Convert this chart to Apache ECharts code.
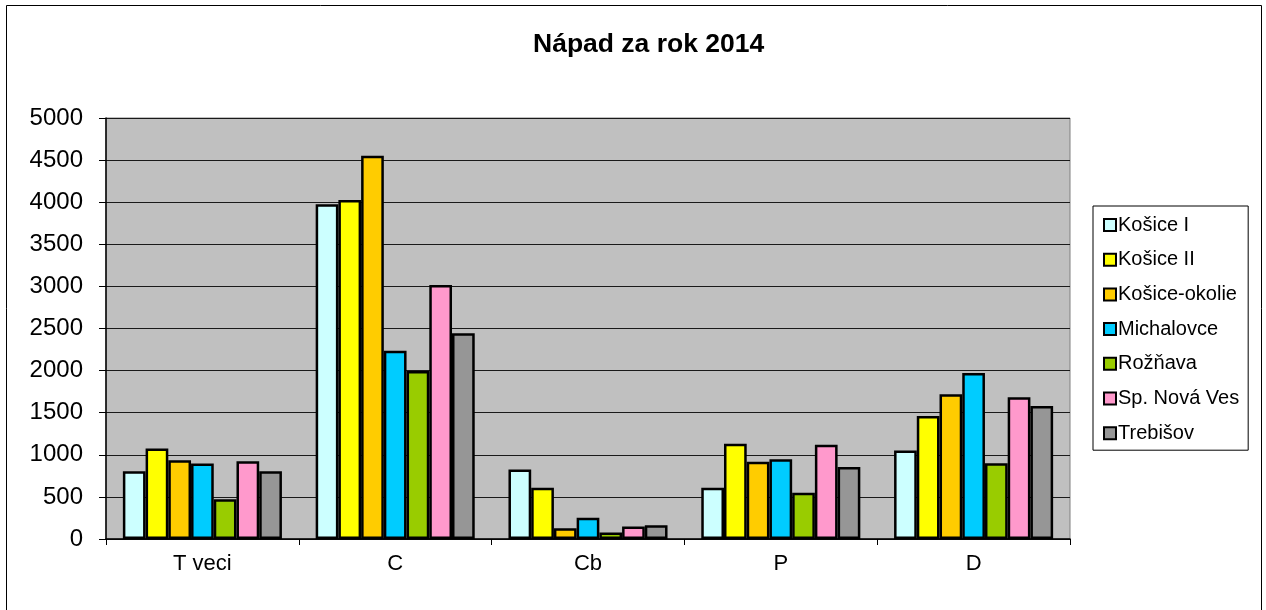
<!DOCTYPE html>
<html>
<head>
<meta charset="utf-8">
<script src="https://cdn.jsdelivr.net/npm/echarts@6/dist/echarts.min.js"></script>
<style>
html,body{margin:0;padding:0;background:#fff;}
#c{width:1266px;height:610px;}
</style>
</head>
<body>
<div id="c"></div>
<script>
const categories = ['T veci', 'C', 'Cb', 'P', 'D'];
const seriesNames = ['Košice I', 'Košice II', 'Košice-okolie', 'Michalovce', 'Rožňava', 'Sp. Nová Ves', 'Trebišov'];
const kosiceI = [805, 3975, 825, 608, 1050];
const kosiceII = [1075, 4025, 608, 1132, 1460];
const kosiceOkolie = [936, 4552, 128, 916, 1718];
const michalovce = [896, 2236, 252, 948, 1972];
const roznava = [472, 1994, 76, 548, 900];
const spNovaVes = [924, 3017, 148, 1120, 1683];
const trebisov = [805, 2443, 164, 856, 1579];
const yTicks = [0, 500, 1000, 1500, 2000, 2500, 3000, 3500, 4000, 4500, 5000];

const values = [kosiceI, kosiceII, kosiceOkolie, michalovce, roznava, spNovaVes, trebisov];
const colors = ['#CCFFFF', '#FFFF00', '#FFCC00', '#00CCFF', '#99CC00', '#FF99CC', '#969696'];
const FONT = 'Liberation Sans, Arial, sans-serif';

const chart = echarts.init(document.getElementById('c'), null, {renderer: 'canvas'});
chart.setOption({
  backgroundColor: '#ffffff',
  animation: false,
  title: {
    text: 'Nápad za rok 2014',
    left: 533,
    top: 31,
    padding: 0,
    textStyle: {fontFamily: FONT, fontSize: 26.5, fontWeight: 'bold', color: '#000'}
  },
  legend: {
    orient: 'vertical',
    left: 1093,
    top: 206,
    padding: [9, 9, 7, 10],
    borderColor: '#000',
    borderWidth: 1,
    itemWidth: 12,
    itemHeight: 12,
    itemGap: 14.7,
    icon: 'rect',
    itemStyle: {borderColor: '#000', borderWidth: 2},
    textStyle: {fontFamily: FONT, fontSize: 20, color: '#000', lineHeight: 20, padding: [0, 0, 0, -3]},
    data: seriesNames
  },
  grid: {
    left: 106, top: 118, width: 964, height: 421,
    show: true, backgroundColor: '#C0C0C0', borderColor: '#808080', borderWidth: 1,
    containLabel: false
  },
  xAxis: {
    type: 'category',
    data: categories,
    axisLine: {lineStyle: {color: '#000', width: 1.5}},
    axisTick: {show: true, length: 6, lineStyle: {color: '#000', width: 1}},
    axisLabel: {fontFamily: FONT, fontSize: 22, color: '#000', margin: 14}
  },
  yAxis: {
    type: 'value',
    min: yTicks[0],
    max: yTicks[yTicks.length - 1],
    interval: yTicks[1] - yTicks[0],
    axisLine: {show: true, lineStyle: {color: '#000', width: 1.5}},
    axisTick: {show: true, length: 7, lineStyle: {color: '#000', width: 1}},
    axisLabel: {fontFamily: FONT, fontSize: 24, color: '#000', margin: 23, formatter: v => String(v)},
    splitLine: {show: true, lineStyle: {color: '#1a1a1a', width: 1}}
  },
  series: seriesNames.map((name, i) => ({
    name: name,
    type: 'bar',
    data: values[i],
    barGap: '0%',
    barCategoryGap: '17.5%',
    itemStyle: {color: colors[i], borderColor: '#000', borderWidth: 2.5}
  })),
  graphic: [{
    type: 'rect',
    shape: {x: 6.5, y: 5.5, width: 1255, height: 620},
    style: {fill: 'none', stroke: '#000', lineWidth: 1},
    silent: true,
    z: 100
  }]
});
</script>
</body>
</html>
